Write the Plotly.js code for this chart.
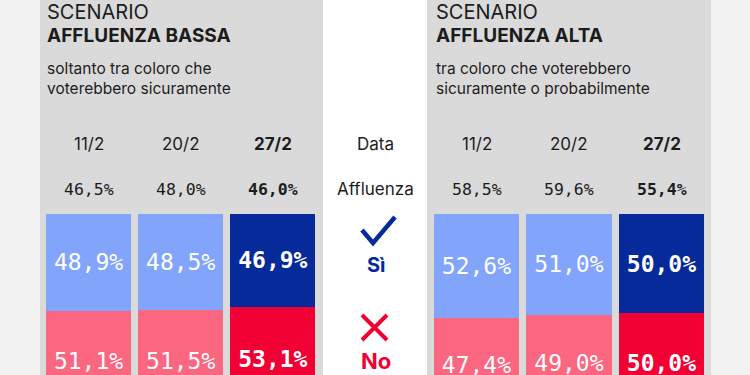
<!DOCTYPE html>
<html>
<head>
<meta charset="utf-8">
<script src="https://cdn.plot.ly/plotly-3.0.1.min.js"></script>
<style>html,body{margin:0;padding:0;background:#f2f2f2;}#chart{width:750px;height:375px;}</style>
</head>
<body>
<div id="chart"></div>
<script>
// ---- data ----
var dates = ['11/2', '20/2', '27/2'];
var turnoutLow = [46.5, 48.0, 46.0];
var turnoutHigh = [58.5, 59.6, 55.4];
var siLow = [48.9, 48.5, 46.9];
var noLow = [51.1, 51.5, 53.1];
var siHigh = [52.6, 51.0, 50.0];
var noHigh = [47.4, 49.0, 50.0];

// ---- styling ----
var W = 750, H = 375;
var SI_LIGHT = '#83a4fb', SI_DARK = '#062a99';
var NO_LIGHT = '#fb6680', NO_DARK = '#f10034';
var TXT = '#1c1c1c';
var MONO = 'DejaVu Sans Mono, monospace';
var SANS = 'Inter, Roboto, sans-serif';

function px(x) { return x / W; }
function py(y) { return 1 - y / H; }
function fmt(v) { return v.toFixed(1).replace('.', ',') + '%'; }
function lbl(arr) { return arr.map(function (v, i) { return i === arr.length - 1 ? '<b>' + fmt(v) + '</b>' : fmt(v); }); }
function cols(light, dark, n) { var c = []; for (var i = 0; i < n; i++) c.push(i === n - 1 ? dark : light); return c; }

function barTrace(y, xa, light, dark) {
  return {
    type: 'bar', x: dates, y: y, xaxis: xa, yaxis: 'y',
    marker: { color: cols(light, dark, dates.length), line: { width: 0 } },
    text: lbl(y), textposition: 'inside', insidetextanchor: 'middle', textangle: 0,
    constraintext: 'none',
    textfont: { family: MONO, size: 23, color: '#ffffff' },
    hoverinfo: 'skip', showlegend: false
  };
}

var data = [
  barTrace(siLow, 'x', SI_LIGHT, SI_DARK),
  barTrace(noLow, 'x', NO_LIGHT, NO_DARK),
  barTrace(siHigh, 'x2', SI_LIGHT, SI_DARK),
  barTrace(noHigh, 'x2', NO_LIGHT, NO_DARK)
];

// y axis: 0 at pixel 214, 1.98 px per point, reversed
var top0 = 214, k = 1.98;
var yr = [(H - top0) / k, -top0 / k];

var shapes = [
  { type: 'rect', xref: 'paper', yref: 'paper', x0: px(40), x1: px(323), y0: 0, y1: 1, fillcolor: '#dadada', line: { width: 0 }, layer: 'below' },
  { type: 'rect', xref: 'paper', yref: 'paper', x0: px(323), x1: px(427), y0: 0, y1: 1, fillcolor: '#ffffff', line: { width: 0 }, layer: 'below' },
  { type: 'rect', xref: 'paper', yref: 'paper', x0: px(427), x1: px(711), y0: 0, y1: 1, fillcolor: '#dadada', line: { width: 0 }, layer: 'below' },
  // check mark
  { type: 'path', xref: 'paper', yref: 'paper',
    path: 'M' + px(362) + ',' + py(230) + ' L' + px(373) + ',' + py(243) + ' L' + px(395) + ',' + py(217),
    line: { color: SI_DARK, width: 4.5 } },
  // cross
  { type: 'path', xref: 'paper', yref: 'paper',
    path: 'M' + px(362) + ',' + py(315) + ' L' + px(387) + ',' + py(340) + ' M' + px(387) + ',' + py(315) + ' L' + px(362) + ',' + py(340),
    line: { color: NO_DARK, width: 4 } }
];

var ann = [];
function A(text, x, y, size, opts) {
  var o = { text: text, xref: 'paper', yref: 'paper', x: px(x), y: py(y), showarrow: false,
    xanchor: 'left', yanchor: 'middle', font: { family: SANS, size: size, color: TXT } };
  for (var key in opts) o[key] = opts[key];
  ann.push(o);
}
// Left panel
A('SCENARIO', 45, 12, 20, {});
A('<b>AFFLUENZA BASSA</b>', 45, 35, 19, {});
A('soltanto tra coloro che', 45, 68, 15.5, {});
A('voterebbero sicuramente', 45, 88, 15.5, {});
// Right panel
A('SCENARIO', 434, 12, 20, {});
A('<b>AFFLUENZA ALTA</b>', 434, 35, 19, {});
A('tra coloro che voterebbero', 434, 68, 15.5, {});
A('sicuramente o probabilmente', 434, 88, 15.5, {});

// column headers and turnout
var cL = [88.5, 180.5, 273], cR = [476.5, 569.5, 661.5];
dates.forEach(function (d, i) {
  var b = i === dates.length - 1;
  ann.push({ text: b ? '<b>' + d + '</b>' : d, xref: 'x', yref: 'paper', x: d, y: py(144), showarrow: false, xanchor: 'center', yanchor: 'middle', font: { family: SANS, size: 17, color: TXT } });
  ann.push({ text: b ? '<b>' + d + '</b>' : d, xref: 'x2', yref: 'paper', x: d, y: py(144), showarrow: false, xanchor: 'center', yanchor: 'middle', font: { family: SANS, size: 17, color: TXT } });
  var tl = fmt(turnoutLow[i]), th = fmt(turnoutHigh[i]);
  ann.push({ text: b ? '<b>' + tl + '</b>' : tl, xref: 'x', yref: 'paper', x: d, y: py(189), showarrow: false, xanchor: 'center', yanchor: 'middle', font: { family: MONO, size: 16.5, color: TXT } });
  ann.push({ text: b ? '<b>' + th + '</b>' : th, xref: 'x2', yref: 'paper', x: d, y: py(189), showarrow: false, xanchor: 'center', yanchor: 'middle', font: { family: MONO, size: 16.5, color: TXT } });
});

// middle column
A('Data', 375, 144, 17, { xanchor: 'center' });
A('Affluenza', 375, 189, 17, { xanchor: 'center' });
A('<b>Sì</b>', 376, 265, 20, { xanchor: 'center', font: { family: SANS, size: 20, color: SI_DARK } });
A('<b>No</b>', 376, 361, 22, { xanchor: 'center', font: { family: SANS, size: 22, color: NO_DARK } });

var layout = {
  width: W, height: H,
  margin: { l: 0, r: 0, t: 0, b: 0, pad: 0 },
  paper_bgcolor: '#f2f2f2', plot_bgcolor: 'rgba(0,0,0,0)',
  barmode: 'stack', bargap: 0.079,
  xaxis: { domain: [px(42.5), px(319)], visible: false, type: 'category', range: [-0.5, 2.5], fixedrange: true },
  xaxis2: { domain: [px(430.25), px(707.75)], visible: false, type: 'category', range: [-0.5, 2.5], anchor: 'y', fixedrange: true },
  yaxis: { range: yr, visible: false, domain: [0, 1], fixedrange: true },
  shapes: shapes, annotations: ann,
  uniformtext: { mode: false },
  showlegend: false
};

Plotly.newPlot('chart', data, layout, { displayModeBar: false, staticPlot: true });
</script>
</body>
</html>
